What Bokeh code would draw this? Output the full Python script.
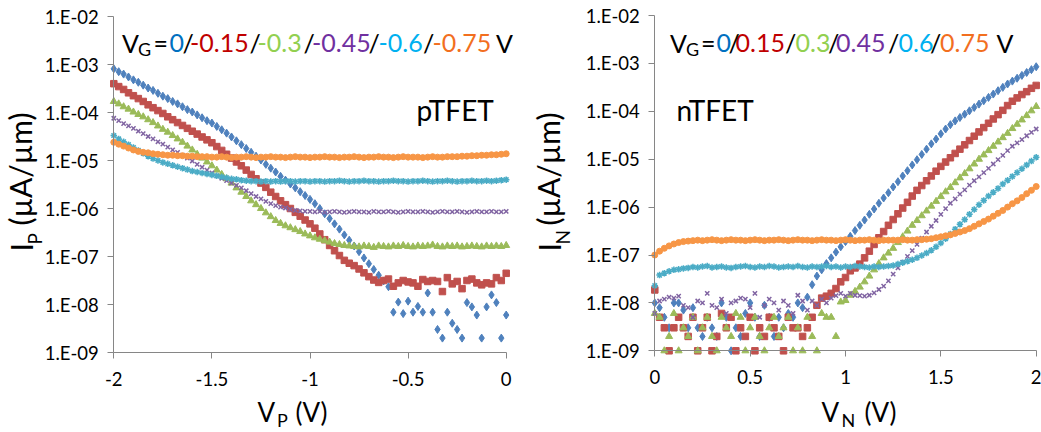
import math
from bokeh.plotting import figure
from bokeh.layouts import row
from bokeh.models import Range1d, FixedTicker, CustomJSTickFormatter, Label
from bokeh.embed import file_html
from bokeh.resources import INLINE

# ---------------- data ----------------
# gate sweep voltages of the measurement (V)
VP = [round(-2.0 + 0.025 * i, 3) for i in range(81)]   # pTFET: -2 .. 0
VN = [round(0.025 * i, 3) for i in range(81)]          # nTFET:  0 .. 2

VG_P = ["0", "-0.15", "-0.3", "-0.45", "-0.6", "-0.75"]
VG_N = ["0", "0.15", "0.3", "0.45", "0.6", "0.75"]

# log10 of I (uA/um), pTFET
P_VG0 = [-3.09, -3.15, -3.20, -3.26, -3.32, -3.37, -3.43, -3.49, -3.54, -3.60,
         -3.66, -3.71, -3.77, -3.82, -3.88, -3.94, -3.99, -4.05, -4.11, -4.17,
         -4.22, -4.29, -4.36, -4.43, -4.51, -4.59, -4.67, -4.75, -4.83, -4.91,
         -4.99, -5.08, -5.16, -5.24, -5.33, -5.41, -5.49, -5.57, -5.65, -5.73,
         -5.81, -5.90, -6.00, -6.11, -6.21, -6.32, -6.43, -6.55, -6.66, -6.78,
         -6.90, -7.03, -7.15, -7.27, -7.39, -7.51, -7.63, -8.16, -7.95, -8.19,
         -7.93, -8.16, -8.04, -8.16, -7.76, -8.16, -8.52, -8.70, -8.16, -8.39,
         -8.52, -8.70, -7.96, -8.05, -8.22, -8.70, -8.05, -7.80, -7.96, -8.70,
         -8.22]
P_VG1 = [-3.40, -3.46, -3.52, -3.59, -3.65, -3.71, -3.77, -3.84, -3.90, -3.96,
         -4.02, -4.09, -4.15, -4.21, -4.27, -4.33, -4.39, -4.45, -4.51, -4.57,
         -4.63, -4.71, -4.79, -4.87, -4.95, -5.03, -5.11, -5.20, -5.29, -5.38,
         -5.47, -5.56, -5.66, -5.75, -5.84, -5.92, -6.00, -6.08, -6.16, -6.24,
         -6.32, -6.41, -6.53, -6.65, -6.77, -6.88, -6.98, -7.08, -7.14, -7.19,
         -7.26, -7.34, -7.42, -7.49, -7.54, -7.50, -7.47, -7.62, -7.55, -7.50,
         -7.53, -7.55, -7.62, -7.48, -7.52, -7.50, -7.52, -7.73, -7.44, -7.57,
         -7.52, -7.67, -7.50, -7.47, -7.55, -7.59, -7.55, -7.57, -7.44, -7.50,
         -7.35]
P_VG2 = [-3.77, -3.82, -3.88, -3.93, -3.99, -4.04, -4.09, -4.15, -4.21, -4.28,
         -4.35, -4.41, -4.48, -4.55, -4.62, -4.70, -4.78, -4.87, -4.95, -5.03,
         -5.11, -5.20, -5.29, -5.38, -5.47, -5.57, -5.66, -5.75, -5.84, -5.92,
         -6.00, -6.09, -6.17, -6.25, -6.31, -6.36, -6.40, -6.44, -6.48, -6.53,
         -6.57, -6.61, -6.64, -6.67, -6.70, -6.73, -6.75, -6.77, -6.78, -6.79,
         -6.80, -6.78, -6.79, -6.81, -6.78, -6.79, -6.80, -6.78, -6.79, -6.77,
         -6.79, -6.80, -6.78, -6.79, -6.78, -6.76, -6.79, -6.80, -6.78, -6.79,
         -6.78, -6.80, -6.79, -6.78, -6.79, -6.80, -6.78, -6.79, -6.78, -6.79,
         -6.77]
P_VG3 = [-4.12, -4.17, -4.23, -4.28, -4.33, -4.39, -4.44, -4.50, -4.55, -4.61,
         -4.66, -4.72, -4.78, -4.83, -4.89, -4.95, -5.01, -5.08, -5.14, -5.20,
         -5.26, -5.32, -5.37, -5.42, -5.47, -5.52, -5.57, -5.63, -5.69, -5.75,
         -5.80, -5.85, -5.90, -5.94, -5.97, -5.99, -6.02, -6.04, -6.05, -6.06,
         -6.06, -6.07, -6.06, -6.08, -6.07, -6.06, -6.07, -6.08, -6.07, -6.06,
         -6.07, -6.07, -6.08, -6.06, -6.07, -6.07, -6.06, -6.07, -6.08, -6.07,
         -6.06, -6.07, -6.07, -6.06, -6.07, -6.08, -6.07, -6.06, -6.07, -6.07,
         -6.06, -6.07, -6.08, -6.07, -6.06, -6.07, -6.07, -6.06, -6.07, -6.07,
         -6.06]
P_VG4 = [-4.48, -4.55, -4.61, -4.67, -4.73, -4.79, -4.85, -4.91, -4.96, -5.00,
         -5.04, -5.07, -5.10, -5.13, -5.16, -5.19, -5.22, -5.24, -5.26, -5.28,
         -5.30, -5.32, -5.34, -5.36, -5.38, -5.39, -5.41, -5.42, -5.43, -5.43,
         -5.44, -5.43, -5.44, -5.43, -5.44, -5.43, -5.43, -5.44, -5.43, -5.43,
         -5.44, -5.43, -5.43, -5.44, -5.43, -5.43, -5.42, -5.43, -5.44, -5.43,
         -5.43, -5.42, -5.43, -5.43, -5.44, -5.43, -5.43, -5.42, -5.43, -5.43,
         -5.44, -5.43, -5.43, -5.42, -5.43, -5.44, -5.43, -5.43, -5.42, -5.43,
         -5.44, -5.43, -5.43, -5.42, -5.43, -5.43, -5.42, -5.43, -5.42, -5.41,
         -5.40]
P_VG5 = [-4.62, -4.66, -4.70, -4.74, -4.78, -4.81, -4.83, -4.84, -4.86, -4.87,
         -4.88, -4.89, -4.89, -4.90, -4.90, -4.91, -4.91, -4.92, -4.92, -4.92,
         -4.93, -4.93, -4.92, -4.93, -4.94, -4.93, -4.93, -4.92, -4.93, -4.94,
         -4.93, -4.93, -4.92, -4.93, -4.93, -4.94, -4.93, -4.92, -4.93, -4.93,
         -4.94, -4.93, -4.93, -4.92, -4.93, -4.93, -4.94, -4.93, -4.93, -4.92,
         -4.93, -4.94, -4.93, -4.93, -4.92, -4.93, -4.93, -4.94, -4.93, -4.92,
         -4.93, -4.93, -4.93, -4.94, -4.93, -4.92, -4.93, -4.93, -4.92, -4.92,
         -4.92, -4.91, -4.91, -4.90, -4.90, -4.89, -4.89, -4.88, -4.88, -4.87,
         -4.86]

# log10 of I (uA/um), nTFET
N_VG0 = [-8.00, -8.10, -8.30, -8.52, -8.00, -8.00, -8.15, -8.52, -8.10, -8.52,
         -8.70, -8.30, -8.52, -8.70, -8.00, -8.30, -9.00, -8.52, -8.70, -8.22,
         -8.00, -8.30, -8.70, -8.05, -8.30, -8.70, -8.30, -8.52, -8.22, -8.30,
         -8.00, -8.10, -7.88, -7.62, -7.44, -7.31, -7.18, -7.06, -6.94, -6.83,
         -6.72, -6.61, -6.49, -6.38, -6.27, -6.15, -6.04, -5.92, -5.81, -5.70,
         -5.58, -5.47, -5.35, -5.24, -5.12, -5.01, -4.90, -4.79, -4.68, -4.58,
         -4.47, -4.37, -4.28, -4.20, -4.13, -4.06, -3.99, -3.92, -3.85, -3.78,
         -3.71, -3.64, -3.57, -3.50, -3.43, -3.37, -3.31, -3.25, -3.19, -3.13,
         -3.07]
N_VG1 = [-7.73, -8.30, -8.52, -9.00, -8.52, -8.30, -8.52, -8.70, -8.30, -9.00,
         -8.52, -8.30, -9.00, -8.70, -8.22, -8.52, -8.30, -9.00, -8.52, -8.70,
         -8.30, -9.00, -8.52, -8.70, -8.30, -8.52, -8.70, -9.00, -8.30, -8.52,
         -8.52, -8.70, -8.52, -8.30, -8.05, -7.90, -7.86, -7.80, -7.70, -7.56,
         -7.47, -7.33, -7.27, -7.19, -7.06, -6.92, -6.78, -6.64, -6.51, -6.38,
         -6.26, -6.14, -6.02, -5.90, -5.77, -5.65, -5.55, -5.45, -5.35, -5.25,
         -5.15, -5.06, -4.97, -4.88, -4.79, -4.70, -4.61, -4.52, -4.43, -4.34,
         -4.25, -4.16, -4.07, -3.98, -3.88, -3.79, -3.72, -3.65, -3.59, -3.52,
         -3.46]
N_VG2 = [-8.22, -8.30, -9.00, -8.70, -8.22, -9.00, -8.52, -8.70, -8.30, -9.00,
         -8.52, -8.30, -8.70, -9.00, -8.30, -8.52, -8.70, -8.22, -8.30, -9.00,
         -8.52, -8.30, -8.70, -9.00, -8.52, -8.30, -8.70, -8.52, -8.30, -9.00,
         -8.52, -9.00, -8.30, -8.70, -9.00, -8.22, -8.30, -8.30, -8.70, -7.98,
         -7.95, -7.84, -7.76, -7.67, -7.56, -7.44, -7.31, -7.18, -7.06, -6.96,
         -6.86, -6.74, -6.62, -6.50, -6.38, -6.28, -6.18, -6.08, -5.98, -5.88,
         -5.78, -5.68, -5.59, -5.49, -5.39, -5.30, -5.20, -5.10, -5.00, -4.91,
         -4.82, -4.73, -4.64, -4.55, -4.46, -4.36, -4.27, -4.18, -4.09, -3.99,
         -3.90]
N_VG3 = [-8.22, -7.96, -7.92, -7.88, -7.90, -7.86, -8.05, -8.10, -8.30, -7.96,
         -8.00, -7.80, -8.05, -8.10, -7.92, -8.22, -8.00, -7.96, -7.90, -7.92,
         -8.10, -7.80, -8.30, -8.05, -7.92, -8.00, -8.15, -7.96, -8.05, -8.22,
         -7.84, -7.96, -8.15, -7.96, -8.05, -7.92, -8.00, -7.90, -7.85, -7.80,
         -7.86, -7.80, -7.84, -7.85, -7.86, -7.84, -7.79, -7.72, -7.65, -7.54,
         -7.40, -7.27, -7.15, -7.03, -6.91, -6.78, -6.65, -6.52, -6.40, -6.28,
         -6.15, -6.03, -5.92, -5.83, -5.73, -5.64, -5.54, -5.45, -5.37, -5.28,
         -5.19, -5.10, -5.01, -4.92, -4.82, -4.73, -4.66, -4.59, -4.51, -4.44,
         -4.37]
N_VG4 = [-7.64, -7.42, -7.38, -7.34, -7.31, -7.30, -7.28, -7.27, -7.25, -7.26,
         -7.24, -7.23, -7.26, -7.25, -7.24, -7.26, -7.27, -7.25, -7.24, -7.23,
         -7.25, -7.26, -7.24, -7.25, -7.23, -7.24, -7.26, -7.25, -7.24, -7.25,
         -7.23, -7.25, -7.26, -7.24, -7.25, -7.24, -7.23, -7.25, -7.24, -7.26,
         -7.24, -7.25, -7.23, -7.24, -7.25, -7.26, -7.24, -7.25, -7.24, -7.23,
         -7.22, -7.19, -7.16, -7.13, -7.10, -7.06, -7.01, -6.96, -6.90, -6.83,
         -6.75, -6.66, -6.56, -6.46, -6.36, -6.26, -6.15, -6.05, -5.95, -5.86,
         -5.77, -5.69, -5.61, -5.52, -5.44, -5.36, -5.28, -5.20, -5.12, -5.04,
         -4.96]
N_VG5 = [-7.00, -6.92, -6.86, -6.81, -6.77, -6.74, -6.72, -6.71, -6.70, -6.69,
         -6.70, -6.69, -6.68, -6.69, -6.70, -6.69, -6.68, -6.69, -6.69, -6.70,
         -6.69, -6.68, -6.69, -6.70, -6.69, -6.69, -6.68, -6.69, -6.70, -6.69,
         -6.68, -6.69, -6.69, -6.70, -6.69, -6.68, -6.69, -6.69, -6.70, -6.69,
         -6.68, -6.69, -6.70, -6.69, -6.69, -6.68, -6.69, -6.70, -6.69, -6.69,
         -6.69, -6.69, -6.68, -6.69, -6.69, -6.68, -6.68, -6.67, -6.66, -6.64,
         -6.62, -6.60, -6.58, -6.55, -6.52, -6.49, -6.45, -6.40, -6.35, -6.30,
         -6.25, -6.19, -6.13, -6.07, -6.00, -5.93, -5.87, -5.80, -5.72, -5.65,
         -5.57]

P_DATA = [P_VG0, P_VG1, P_VG2, P_VG3, P_VG4, P_VG5]
N_DATA = [N_VG0, N_VG1, N_VG2, N_VG3, N_VG4, N_VG5]
for s in P_DATA + N_DATA:
    assert len(s) == 81, len(s)

Y_TICKS = [1e-9, 1e-8, 1e-7, 1e-6, 1e-5, 1e-4, 1e-3, 1e-2]
XP_TICKS = [-2, -1.5, -1, -0.5, 0]
XN_TICKS = [0, 0.5, 1, 1.5, 2]

# ---------------- styles / layout ----------------
SERIES_COLORS = ["#4F81BD", "#C0504D", "#9BBB59", "#8064A2", "#4BACC6", "#F79646"]
TEXT_COLORS = ["#0070C0", "#C00000", "#92D050", "#7030A0", "#00B0F0", "#F26F1F"]
MARKERS = ["diamond", "square", "triangle", "x", "asterisk", "circle"]
SIZES = [8, 6.5, 7, 6, 6.5, 6]
FONT = "Lato"
AXIS_GRAY = "#868686"
H = 432
CENTRAL = 0.385   # label anchor sits at the em-box centre, this far above the baseline

def make_fig(fig_x, fig_w, x_lo, x_hi, px_lo, px_hi, py_top, py_bot, xticks):
    """plot area spans the whole canvas; axes sit at fixed data locations"""
    ppu = (px_hi - px_lo) / (x_hi - x_lo)
    xs = x_lo - (px_lo - fig_x) / ppu
    xe = x_lo + (fig_x + fig_w - px_lo) / ppu
    ppd = (py_bot - py_top) / 7.0          # pixels per decade (1E-9 .. 1E-2)
    ytop = -2 + py_top / ppd
    ybot = -9 - (H - py_bot) / ppd
    p = figure(width=fig_w, height=H, title=None,
               x_range=Range1d(xs, xe), y_range=Range1d(10 ** ybot, 10 ** ytop),
               y_axis_type="log", output_backend="svg", toolbar_location=None,
               min_border_left=0, min_border_right=0,
               min_border_top=0, min_border_bottom=0)
    p.outline_line_color = None
    p.grid.visible = False
    p.background_fill_color = "white"
    p.border_fill_color = "white"
    p.yaxis.ticker = FixedTicker(ticks=Y_TICKS)
    p.xaxis.ticker = FixedTicker(ticks=xticks)
    p.yaxis.formatter = CustomJSTickFormatter(code="""
        const e = Math.round(Math.log10(tick));
        return "1.E" + (e < 0 ? "-" : "+") + String(Math.abs(e)).padStart(2, "0");
    """)
    p.xaxis.formatter = CustomJSTickFormatter(code="return String(tick);")
    p.yaxis.fixed_location = x_lo
    p.yaxis.bounds = (Y_TICKS[0], Y_TICKS[-1])
    p.xaxis.fixed_location = Y_TICKS[0]
    p.xaxis.bounds = (x_lo, x_hi)
    for ax in p.axis:
        ax.axis_line_color = AXIS_GRAY
        ax.major_tick_line_color = AXIS_GRAY
        ax.minor_tick_line_color = None
        ax.major_tick_in = 0
        ax.major_tick_out = 6
        ax.major_label_text_font = FONT
        ax.major_label_text_font_size = "18.5px"
        ax.major_label_text_color = "#000000"
    p.yaxis.major_label_standoff = 9
    p.xaxis.major_label_standoff = 13
    return p

def put(p, fig_x, text, px, py, size, color="#000000", rotated=False):
    """px, py: start of the text and its baseline, in page pixels"""
    if rotated:
        ax, ay, ang = px - CENTRAL * size, py, math.pi / 2
    else:
        ax, ay, ang = px, py - CENTRAL * size, 0.0
    p.add_layout(Label(x=ax - fig_x, y=H - ay, x_units="screen", y_units="screen",
                       text=text, text_font=FONT, text_font_size=f"{size}px",
                       text_color=color, text_align="left",
                       text_baseline="alphabetic", angle=ang))

def add_series(p, xs, data):
    for k, logs in enumerate(data):
        ys = [10.0 ** v for v in logs]
        lw = 1.5 if MARKERS[k] in ("x", "asterisk") else 1
        p.scatter(xs, ys, marker=MARKERS[k], size=SIZES[k],
                  fill_color=SERIES_COLORS[k], line_color=SERIES_COLORS[k],
                  line_width=lw)

MAIN, SUB = 25, 18

# ---------------- left: pTFET ----------------
LX = 0
pl = make_fig(LX, 520, -2, 0, 113.3, 505.7, 16, 352, XP_TICKS)
add_series(pl, VP, P_DATA)
put(pl, LX, "V", 121.5, 52, MAIN)
put(pl, LX, "G", 137.5, 55.5, SUB)
put(pl, LX, "=", 153, 52, MAIN)
for k, x in enumerate([169, 189.5, 257, 311.5, 378, 432]):
    put(pl, LX, VG_P[k], x, 52, MAIN, TEXT_COLORS[k])
for x in [182, 249, 303, 368, 422.5]:
    put(pl, LX, "/", x, 52, MAIN)
put(pl, LX, "V", 495.5, 52, MAIN)
put(pl, LX, "pTFET", 416, 120, 28)
put(pl, LX, "V", 257, 422, 26)
put(pl, LX, "P", 276.5, 426, 18)
put(pl, LX, "(V)", 295, 422, 26)
put(pl, LX, "I", 32, 251, 30, rotated=True)
put(pl, LX, "P", 41.5, 244, 19, rotated=True)
put(pl, LX, "(\u00b5A/\u00b5m)", 31, 225, 30, rotated=True)

# ---------------- right: nTFET ----------------
RX = 520
pr = make_fig(RX, 521, 0, 2, 654.3, 1035.7, 15, 350.3, XN_TICKS)
add_series(pr, VN, N_DATA)
put(pr, RX, "V", 669.5, 52, MAIN)
put(pr, RX, "G", 685.5, 55.5, SUB)
put(pr, RX, "=", 700.5, 52, MAIN)
for k, x in enumerate([716, 735, 795, 835.5, 898, 939.5]):
    put(pr, RX, VG_N[k], x, 52, MAIN, TEXT_COLORS[k])
for x in [728, 784.5, 827.5, 887.5, 929.5]:
    put(pr, RX, "/", x, 52, MAIN)
put(pr, RX, "V", 996, 52, MAIN)
put(pr, RX, "nTFET", 676, 120, 28)
put(pr, RX, "V", 821, 422, 26)
put(pr, RX, "N", 841, 426, 18)
put(pr, RX, "(V)", 864, 422, 26)
put(pr, RX, "I", 560, 251, 30, rotated=True)
put(pr, RX, "N", 569.5, 244, 19, rotated=True)
put(pr, RX, "(\u00b5A/\u00b5m)", 559, 225, 30, rotated=True)

layout = row(pl, pr, spacing=0)
open("out.html", "w").write(file_html(layout, INLINE))
